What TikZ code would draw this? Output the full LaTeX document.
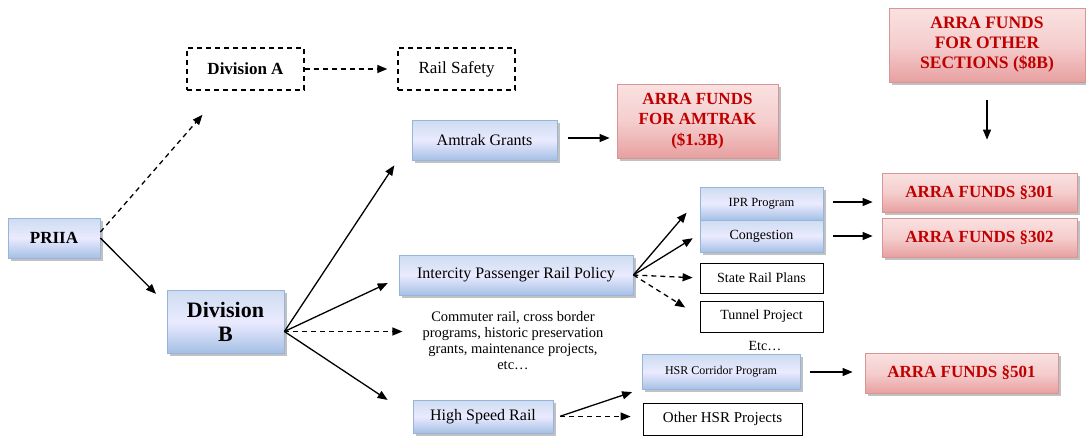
\documentclass[tikz,border=0pt]{standalone}
\usepackage{fontspec}
\setmainfont{Liberation Serif}
\usetikzlibrary{arrows.meta,shadows,calc}
\definecolor{bbord}{RGB}{150,180,220}
\definecolor{btop}{RGB}{205,220,240}
\definecolor{bbot}{RGB}{165,192,228}
\definecolor{rbord}{RGB}{215,150,150}
\definecolor{rtop}{RGB}{250,225,225}
\definecolor{rbot}{RGB}{232,160,160}
\definecolor{rtext}{RGB}{192,0,0}
\tikzset{
  shad/.style={drop shadow={shadow xshift=2.5pt,shadow yshift=-2.5pt,fill=black!35,opacity=0.7}},
  bluebox/.style={shad,draw=bbord,line width=0.8pt,top color=btop,bottom color=bbot,middle color=white!92!blue,inner sep=0pt,align=center},
  redbox/.style={shad,draw=rbord,line width=0.8pt,top color=rtop,bottom color=rbot,middle color=rtop!70!rbot,inner sep=0pt,align=center,text=rtext,font=\fontsize{17}{20.5}\selectfont\bfseries},
  plainbox/.style={draw=black,line width=0.8pt,fill=white,inner sep=0pt,align=center},
  dashbox/.style={draw=black,line width=1.4pt,dash pattern=on 5pt off 4pt,inner sep=0pt,align=center},
  arr/.style={line width=1.3pt,-{Triangle[length=10pt,width=8pt]}},
  darr/.style={arr,dash pattern=on 5pt off 4pt},
}
\begin{document}
\begin{tikzpicture}[x=1pt,y=-1pt]
\useasboundingbox (0,0) rectangle (1086,437);
% nodes
\node[bluebox,minimum width=92pt,minimum height=40pt,font=\fontsize{17}{20}\selectfont\bfseries] (PRIIA) at (54,238) {PRIIA};
\node[dashbox,minimum width=117pt,minimum height=42pt,font=\fontsize{17}{20}\selectfont\bfseries] (DivA) at (245.5,69) {Division A};
\node[dashbox,minimum width=117pt,minimum height=42pt,font=\fontsize{17}{20}\selectfont] (Rail) at (456.5,69) {Rail Safety};
\node[bluebox,minimum width=117pt,minimum height=63pt,font=\fontsize{22}{24}\selectfont\bfseries] (DivB) at (225.5,321.5) {Division\\B};
\node[bluebox,minimum width=145pt,minimum height=40pt,font=\fontsize{16}{19}\selectfont] (Amtrak) at (484.5,140) {Amtrak Grants};
\node[redbox,minimum width=161pt,minimum height=74pt] (AAmtrak) at (697.5,121) {ARRA FUNDS\\FOR AMTRAK\\(\$1.3B)};
\node[bluebox,minimum width=234pt,minimum height=40pt,font=\fontsize{16}{19}\selectfont] (Inter) at (516,275) {Intercity Passenger Rail Policy};
\node[bluebox,minimum width=123pt,minimum height=33pt,font=\fontsize{12.5}{15}\selectfont] (IPR) at (761.5,203.5) {IPR Program};
\node[bluebox,minimum width=123pt,minimum height=32pt,font=\fontsize{14}{17}\selectfont] (Cong) at (761.5,236) {Congestion};
\node[plainbox,minimum width=123pt,minimum height=30pt,font=\fontsize{14}{17}\selectfont] (State) at (761.5,278) {State Rail Plans};
\node[plainbox,minimum width=123pt,minimum height=31pt,font=\fontsize{14}{17}\selectfont] (Tunnel) at (761.5,316.5) {Tunnel Project};
\node[font=\fontsize{14}{17}\selectfont,inner sep=0pt] (Etc) at (765,346) {Etc\ldots};
\node[font=\fontsize{14.5}{16}\selectfont,align=center,inner sep=0pt] (Comm) at (513,341) {Commuter rail, cross border\\programs, historic preservation\\grants, maintenance projects,\\etc\ldots};
\node[bluebox,minimum width=158pt,minimum height=35pt,font=\fontsize{12}{15}\selectfont] (HSRC) at (721,372) {HSR Corridor Program};
\node[plainbox,minimum width=159pt,minimum height=32pt,font=\fontsize{15}{18}\selectfont] (Other) at (722.5,419) {Other HSR Projects};
\node[bluebox,minimum width=140pt,minimum height=33pt,font=\fontsize{16}{19}\selectfont] (HSR) at (483,416.5) {High Speed Rail};
\node[redbox,minimum width=196pt,minimum height=74pt,font=\fontsize{17.5}{20}\selectfont\bfseries] (A8B) at (987,45) {ARRA FUNDS\\FOR OTHER\\SECTIONS (\$8B)};
\node[redbox,minimum width=195pt,minimum height=39pt] (A301) at (979.5,192.5) {ARRA FUNDS §301};
\node[redbox,minimum width=195pt,minimum height=39pt] (A302) at (979.5,237.5) {ARRA FUNDS §302};
\node[redbox,minimum width=193pt,minimum height=40pt] (A501) at (961.5,373) {ARRA FUNDS §501};
% connectors
\coordinate (psrc) at ([yshift=6pt]PRIIA.east);
\draw[darr,shorten >=32pt] (psrc) -- ([xshift=-22pt]DivA.south);
\draw[arr,shorten >=15pt] (PRIIA.east) -- ([yshift=17pt]DivB.west);
\draw[darr,shorten >=10pt] (DivA.east) -- (Rail.west);
\coordinate (bsrc) at ([yshift=-10pt]DivB.east);
\draw[arr,shorten >=6pt] (bsrc) -- ([xshift=-14pt]Amtrak.south west);
\draw[arr,shorten >=12pt] (bsrc) -- ([yshift=-3pt]Inter.west);
\draw[darr,shorten >=20pt] (bsrc) -- (bsrc -| Comm.west);
\draw[arr,shorten >=30pt] (bsrc) -- (HSR.west);
\draw[arr,shorten <=11pt,shorten >=7pt] ([yshift=2pt]Amtrak.east) -- ([yshift=2pt]Amtrak.east -| AAmtrak.west);
\draw[arr,shorten >=20pt] (Inter.east) -- ([yshift=6pt]IPR.west);
\draw[arr,shorten >=8pt] (Inter.east) -- ([yshift=2pt]Cong.west);
\draw[darr,shorten >=7pt] (Inter.east) -- (State.west);
\draw[darr,shorten >=17pt] (Inter.east) -- (Tunnel.west);
\draw[arr,shorten <=10pt,shorten >=9pt] ([yshift=1.5pt]IPR.east) -- ([yshift=1.5pt]IPR.east -| A301.west);
\draw[arr,shorten <=10pt,shorten >=9pt] (Cong.east) -- (Cong.east -| A302.west);
\draw[arr,shorten <=18pt,shorten >=33pt] (A8B.south) -- (A8B.south |- A301.north);
\draw[arr,shorten <=7pt,shorten >=10pt] ([yshift=-2pt]HSR.east) -- ([yshift=1pt]HSRC.south west);
\draw[darr,shorten <=7pt,shorten >=12pt] (HSR.east) -- (HSR.east -| Other.west);
\draw[arr,shorten <=10pt,shorten >=12pt] (HSRC.east) -- (HSRC.east -| A501.west);
\end{tikzpicture}
\end{document}
